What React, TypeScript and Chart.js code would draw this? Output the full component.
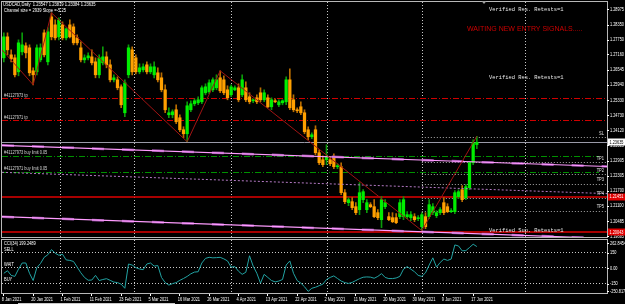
import React, { useEffect, useRef } from 'react';
import { Chart, registerables } from 'chart.js';

Chart.register(...registerables);

// ---------------- data ----------------
const opens = [
  1.2702, 1.2786, 1.2714, 1.2702, 1.2646, 1.2726, 1.2750, 1.2742, 1.2650, 1.2646,
  1.2694, 1.2802, 1.2686, 1.2866, 1.2834, 1.2786, 1.2834, 1.2782, 1.2834, 1.2826,
  1.2782, 1.2742, 1.2694, 1.2702, 1.2706, 1.2686, 1.2634, 1.2682, 1.2706, 1.2674,
  1.2614, 1.2614, 1.2586, 1.2482, 1.2634, 1.2734, 1.2702, 1.2646, 1.2654, 1.2674,
  1.2646, 1.2634, 1.2642, 1.2622, 1.2574, 1.2474, 1.2474, 1.2494, 1.2462, 1.2414,
  1.2398, 1.2494, 1.2518, 1.2522, 1.2526, 1.2562, 1.2566, 1.2574, 1.2582, 1.2622,
  1.2614, 1.2574, 1.2554, 1.2574, 1.2582, 1.2554, 1.2582, 1.2546, 1.2530, 1.2542,
  1.2562, 1.2534, 1.2542, 1.2506, 1.2530, 1.2514, 1.2522, 1.2526, 1.2614, 1.2534,
  1.2494, 1.2506, 1.2482, 1.2414, 1.2386, 1.2414, 1.2322, 1.2294, 1.2294, 1.2294,
  1.2306, 1.2266, 1.2266, 1.2162, 1.2122, 1.2126, 1.2106, 1.2094, 1.2134, 1.2094,
  1.2114, 1.2106, 1.2082, 1.2054, 1.2106, 1.2066, 1.2062, 1.2062, 1.2066, 1.2066,
  1.2066, 1.2062, 1.2066, 1.2058, 1.2026, 1.2066, 1.2066, 1.2082, 1.2070, 1.2082,
  1.2122, 1.2106, 1.2086, 1.2086, 1.2146, 1.2174, 1.2142, 1.2182, 1.2282, 1.23547,
];
const highs = [
  1.2802, 1.2802, 1.2734, 1.2714, 1.2774, 1.2802, 1.2762, 1.2754, 1.2662, 1.2754,
  1.2758, 1.2814, 1.2822, 1.2882, 1.2854, 1.2862, 1.2846, 1.2822, 1.2854, 1.2838,
  1.2794, 1.2766, 1.2714, 1.2722, 1.2734, 1.2702, 1.2714, 1.2746, 1.2726, 1.2694,
  1.2634, 1.2626, 1.2594, 1.2614, 1.2754, 1.2746, 1.2714, 1.2678, 1.2678, 1.2686,
  1.2678, 1.2686, 1.2662, 1.2642, 1.2594, 1.2502, 1.2494, 1.2514, 1.2474, 1.2426,
  1.2526, 1.2530, 1.2538, 1.2546, 1.2590, 1.2598, 1.2614, 1.2622, 1.2634, 1.2650,
  1.2630, 1.2590, 1.2594, 1.2590, 1.2598, 1.2634, 1.2606, 1.2562, 1.2538, 1.2554,
  1.2582, 1.2574, 1.2554, 1.2542, 1.2538, 1.2534, 1.2534, 1.2626, 1.2658, 1.2554,
  1.2502, 1.2526, 1.2494, 1.2426, 1.2402, 1.2430, 1.2334, 1.2310, 1.2354, 1.2306,
  1.2318, 1.2278, 1.2282, 1.2174, 1.2142, 1.2142, 1.2122, 1.2202, 1.2174, 1.2134,
  1.2122, 1.2134, 1.2094, 1.2146, 1.2134, 1.2082, 1.2082, 1.2078, 1.2134, 1.2146,
  1.2086, 1.2086, 1.2078, 1.2070, 1.2082, 1.2082, 1.2134, 1.2118, 1.2090, 1.2102,
  1.2142, 1.2118, 1.2098, 1.2170, 1.2174, 1.2190, 1.2194, 1.2286, 1.2374, 1.23879,
];
const lows = [
  1.2686, 1.2714, 1.2686, 1.2626, 1.2630, 1.2714, 1.2702, 1.2630, 1.2594, 1.2634,
  1.2686, 1.2706, 1.2674, 1.2774, 1.2774, 1.2774, 1.2774, 1.2774, 1.2782, 1.2754,
  1.2754, 1.2686, 1.2682, 1.2694, 1.2674, 1.2622, 1.2622, 1.2674, 1.2662, 1.2606,
  1.2606, 1.2574, 1.2502, 1.2466, 1.2622, 1.2634, 1.2638, 1.2638, 1.2646, 1.2638,
  1.2638, 1.2622, 1.2606, 1.2566, 1.2482, 1.2462, 1.2462, 1.2438, 1.2406, 1.2382,
  1.2366, 1.2486, 1.2510, 1.2514, 1.2518, 1.2554, 1.2558, 1.2566, 1.2574, 1.2562,
  1.2554, 1.2534, 1.2546, 1.2570, 1.2526, 1.2546, 1.2526, 1.2518, 1.2522, 1.2518,
  1.2526, 1.2526, 1.2502, 1.2494, 1.2522, 1.2506, 1.2514, 1.2514, 1.2494, 1.2486,
  1.2482, 1.2474, 1.2398, 1.2374, 1.2378, 1.2314, 1.2274, 1.2266, 1.2274, 1.2270,
  1.2258, 1.2258, 1.2154, 1.2118, 1.2110, 1.2094, 1.2074, 1.2074, 1.2122, 1.2082,
  1.2102, 1.2062, 1.2054, 1.2022, 1.2098, 1.2050, 1.2042, 1.2038, 1.2058, 1.2054,
  1.2058, 1.2050, 1.2046, 1.2050, 1.2010, 1.2018, 1.2058, 1.2074, 1.2062, 1.2074,
  1.2074, 1.2082, 1.2082, 1.2078, 1.2138, 1.2126, 1.2134, 1.2174, 1.2274, 1.23384,
];
const closes = [
  1.2786, 1.2734, 1.2698, 1.2634, 1.2762, 1.2754, 1.2722, 1.2642, 1.2634, 1.2742,
  1.2742, 1.2714, 1.2806, 1.2786, 1.2782, 1.2854, 1.2782, 1.2818, 1.2786, 1.2762,
  1.2762, 1.2694, 1.2702, 1.2710, 1.2682, 1.2634, 1.2702, 1.2706, 1.2674, 1.2614,
  1.2622, 1.2582, 1.2514, 1.2602, 1.2742, 1.2646, 1.2646, 1.2662, 1.2666, 1.2646,
  1.2666, 1.2666, 1.2614, 1.2574, 1.2494, 1.2482, 1.2486, 1.2446, 1.2414, 1.2398,
  1.2510, 1.2518, 1.2530, 1.2534, 1.2582, 1.2586, 1.2602, 1.2614, 1.2614, 1.2570,
  1.2562, 1.2542, 1.2586, 1.2582, 1.2534, 1.2614, 1.2534, 1.2526, 1.2534, 1.2526,
  1.2534, 1.2562, 1.2506, 1.2534, 1.2526, 1.2526, 1.2530, 1.2614, 1.2502, 1.2494,
  1.2490, 1.2482, 1.2406, 1.2386, 1.2394, 1.2322, 1.2282, 1.2274, 1.2306, 1.2278,
  1.2266, 1.2270, 1.2162, 1.2126, 1.2134, 1.2102, 1.2082, 1.2162, 1.2166, 1.2122,
  1.2106, 1.2066, 1.2062, 1.2134, 1.2122, 1.2054, 1.2046, 1.2042, 1.2122, 1.2134,
  1.2074, 1.2074, 1.2054, 1.2062, 1.2074, 1.2026, 1.2114, 1.2106, 1.2082, 1.2094,
  1.2082, 1.2086, 1.2090, 1.2162, 1.2166, 1.2134, 1.2186, 1.2282, 1.2362, 1.23635,
];
const cciValues = [
  -60, -35, -80, -90, -20, 40, 40, -60, -130, -5,
  35, 95, 120, 170, 135, 115, 125, 70, 65, 55,
  0, -55, -100, -127, -125, -80, -130, -120, -112, -128,
  -145, -150, -165, -205, 30, 20, -5, -18, -25, 30,
  40, 10, 15, -100, -150, -174, -160, -150, -128, -110,
  -90, -65, -48, -45, 40, 85, 95, 90, 92, 95,
  80, 60, 0, 5, -40, -70, -50, 110, 10, -60,
  -155, -70, -100, -130, -143, -135, -120, 20, 60, -60,
  -130, -155, -190, -235, -205, -195, -180, -165, -120, -100,
  -85, -110, -135, -150, -158, -148, -130, -112, -98, -95,
  -97, -108, -90, -63, -100, -111, -111, -105, -90, -20,
  5, -20, -45, -80, -90, -55, 20, 90, 0, 45,
  78, 65, 78, 215, 205, 158, 160, 190, 222, 199.25,
];

const dateTickBars = [0, 8, 16, 24, 32, 40, 48, 56, 64, 72, 80, 88, 96, 104, 112, 120, 128];
const dateTickLabels = [
  '8 Jan 2021', '20 Jan 2021', '1 Feb 2021', '11 Feb 2021', '23 Feb 2021', '5 Mar 2021',
  '16 Mar 2021', '26 Mar 2021', '4 Apr 2021', '13 Apr 2021', '22 Apr 2021', '2 May 2021',
  '11 May 2021', '20 May 2021', '30 May 2021', '9 Jun 2021', '17 Jun 2021',
];
const monthGridBars = [15.3, 35.5, 62, 88.1, 114, 142.1];

const priceTicks = [
  1.28975, 1.2835, 1.2775, 1.2716, 1.26545, 1.2594, 1.2533, 1.2473,
  1.2412, 1.23515, 1.22905, 1.22305, 1.217, 1.211, 1.20485, 1.19885,
];
const priceMin = 1.19846;
const priceMax = 1.29255;
const slotMin = -0.5;
const slotMax = 164.5;

const tpLevels = [1.25399, 1.24518];
const tpTags = ['#41127973 tp', '#41127971 tp'];
const limitLevels = [1.23089, 1.22448];
const limitTags = ['#41127973 buy limit 0.05', '#41127971 buy limit 0.05'];
const slLevel = 1.23862;
const targetLevels = [1.22829, 1.22368, 1.21988, 1.21427, 1.20907];
const targetTags = ['TP1', 'TP2', 'TP3', 'TP4', 'TP5'];
const tradeStartBar = 114;
const redLevels = [1.21451, 1.20043];
const upperChannel = [1.23517, 1.22668];
const middleChannel = [1.22436, 1.21583];
const lowerChannel = [1.20658, 1.19789];
const zigzagStart = 1.2734;
const zigzagBars = [8, 13, 50, 59, 114, 129];
const zigzagIsHigh = [false, true, false, true, false, true];

const titleText = 'USDCAD,Daily  1.23547 1.23879 1.23384 1.23635';
const channelText = 'Channel size = 2939 Slope =-5.25';
const signalText = 'WAITING NEW ENTRY SIGNALS.....';
const resText = 'Verified Res. Retests=1';
const supText = 'Verified Sup. Retests=1';
const resLevels = [1.28975, 1.26245];
const supLevel = 1.2010;

const cciMax = 262.8454;
const cciMin = -250.817;
const cciLevels = [150, 0, -150];
const cciLevelTags = ['SELL', 'WAIT', 'BUY'];
const cciTicks = [262.8454, 150, 0, -150, -250.817];
const cciTickLabels = ['262.8454', '150', '0.00', '-150', '-250.817'];
const cciTitle = 'CCI(34) 199.2489';

// ---------------- helpers ----------------
const SANS = '"Liberation Sans", Arial, sans-serif';
const MONO = '"Liberation Mono", "Courier New", monospace';

function drawText(ctx: CanvasRenderingContext2D, s: string, x: number, y: number, size: number, color: string, sx = 1, align: CanvasTextAlign = 'left', family = SANS) {
  ctx.save();
  ctx.font = `${size}px ${family}`;
  ctx.fillStyle = color;
  ctx.textAlign = align;
  ctx.textBaseline = 'middle';
  ctx.translate(x, y);
  ctx.scale(sx, 1);
  ctx.fillText(s, 0, 0);
  ctx.restore();
}

function hline(ctx: CanvasRenderingContext2D, x1: number, x2: number, y: number, color: string, dash: number[], width = 1) {
  ctx.save();
  ctx.strokeStyle = color;
  ctx.lineWidth = width;
  ctx.setLineDash(dash);
  const yy = Math.round(y) + (Math.round(width) % 2 ? 0.5 : 0);
  ctx.beginPath();
  ctx.moveTo(x1, yy);
  ctx.lineTo(x2, yy);
  ctx.stroke();
  ctx.restore();
}

function vline(ctx: CanvasRenderingContext2D, x: number, y1: number, y2: number, color: string, dash: number[]) {
  ctx.save();
  ctx.strokeStyle = color;
  ctx.lineWidth = 1;
  ctx.setLineDash(dash);
  const xx = Math.round(x) + 0.5;
  ctx.beginPath();
  ctx.moveTo(xx, y1);
  ctx.lineTo(xx, y2);
  ctx.stroke();
  ctx.restore();
}

const BULL = '#00ee00';
const BEAR = '#ffa000';
const BULL_WICK = '#0a9a0a';
const BEAR_WICK = '#b86c00';
const GRID = '#c8c8c8';

// ---------------- plugins ----------------
const mainPlugin = {
  id: 'mainDecor',
  beforeDatasetsDraw(chart: any) {
    const { ctx, chartArea: a, scales } = chart;
    const x = scales.x, y = scales.y;
    ctx.save();
    ctx.beginPath();
    ctx.rect(a.left, a.top, a.right - a.left, a.bottom - a.top);
    ctx.clip();
    monthGridBars.forEach((b) => vline(ctx, x.getPixelForValue(b), a.top, a.bottom, GRID, [1, 2]));
    tpLevels.forEach((v) => hline(ctx, a.left, a.right, y.getPixelForValue(v), '#d00000', [6, 2, 1, 2]));
    limitLevels.forEach((v) => hline(ctx, a.left, a.right - 8, y.getPixelForValue(v), '#009000', [6, 2, 1, 2]));
    const xs = x.getPixelForValue(tradeStartBar);
    hline(ctx, xs, a.right, y.getPixelForValue(slLevel), '#a8a8a8', [1, 2]);
    targetLevels.forEach((v) => hline(ctx, xs, a.right, y.getPixelForValue(v), '#a8a8a8', [1, 2]));
    hline(ctx, a.left, a.right, y.getPixelForValue(closes[closes.length - 1]), '#9a9aa8', []);
    redLevels.forEach((v) => hline(ctx, a.left, a.right, y.getPixelForValue(v), '#e00000', [], 1.5));
    ctx.restore();
  },
  afterDraw(chart: any) {
    const { ctx, chartArea: a, scales } = chart;
    const x = scales.x, y = scales.y;
    // texts
    drawText(ctx, titleText, 3, 5, 5, '#ffffff', 0.82);
    drawText(ctx, channelText, 4, 11, 5, '#ffffff', 0.82);
    drawText(ctx, signalText, 467, 29, 7, '#cc0000', 1);
    resLevels.forEach((v) => drawText(ctx, resText, 489, y.getPixelForValue(v), 6, '#e8e8e8', 0.9, 'left', MONO));
    drawText(ctx, supText, 489, y.getPixelForValue(supLevel), 6, '#e8e8e8', 0.9, 'left', MONO);
    tpTags.forEach((t, i) => drawText(ctx, t, 4, y.getPixelForValue(tpLevels[i]) - 3, 5, '#d8d8d8', 0.78));
    limitTags.forEach((t, i) => drawText(ctx, t, 4, y.getPixelForValue(limitLevels[i]) - 3, 5, '#d8d8d8', 0.78));
    drawText(ctx, 'SL', 604, y.getPixelForValue(slLevel) - 3, 5, '#e0e0e0', 0.8, 'right');
    targetTags.forEach((t, i) => drawText(ctx, t, 604, y.getPixelForValue(targetLevels[i]) - 3.5, 5, '#e0e0e0', 0.8, 'right'));
    // border
    ctx.save();
    ctx.strokeStyle = '#b8b8b8';
    ctx.lineWidth = 1;
    ctx.strokeRect(a.left - 0.5, a.top - 0.5, a.right - a.left + 1, a.bottom - a.top + 1);
    ctx.restore();
    // chart shift marker
    ctx.save();
    ctx.fillStyle = '#a0a0a0';
    ctx.beginPath();
    ctx.moveTo(481.5, 1);
    ctx.lineTo(486.5, 1);
    ctx.lineTo(484, 4);
    ctx.closePath();
    ctx.fill();
    ctx.restore();
    // right axis
    priceTicks.forEach((v) => {
      const py = y.getPixelForValue(v);
      hline(ctx, a.right, a.right + 2, py, '#ffffff', []);
      drawText(ctx, v.toFixed(5), a.right + 3, py, 5.5, '#ffffff', 0.7);
    });
    const boxes = [
      { v: closes[closes.length - 1], bg: '#ffffff', fg: '#000000' },
      { v: redLevels[0], bg: '#e00000', fg: '#ffffff' },
      { v: redLevels[1], bg: '#e00000', fg: '#ffffff' },
    ];
    boxes.forEach((b) => {
      const py = y.getPixelForValue(b.v);
      ctx.save();
      ctx.fillStyle = b.bg;
      ctx.fillRect(a.right + 1, Math.round(py) - 3.5, 17, 7);
      ctx.restore();
      drawText(ctx, b.v.toFixed(5), a.right + 2.5, py, 5.5, b.fg, 0.7);
    });
  },
};

const cciPlugin = {
  id: 'cciDecor',
  beforeDatasetsDraw(chart: any) {
    const { ctx, chartArea: a, scales } = chart;
    const x = scales.x, y = scales.y;
    ctx.save();
    ctx.beginPath();
    ctx.rect(a.left, a.top, a.right - a.left, a.bottom - a.top);
    ctx.clip();
    monthGridBars.forEach((b) => vline(ctx, x.getPixelForValue(b), a.top, a.bottom, GRID, [1, 2]));
    cciLevels.forEach((v) => hline(ctx, a.left, a.right, y.getPixelForValue(v), GRID, [1, 2]));
    ctx.restore();
  },
  afterDraw(chart: any) {
    const { ctx, chartArea: a, scales } = chart;
    const x = scales.x, y = scales.y;
    drawText(ctx, cciTitle, 4, a.top + 4, 5, '#ffffff', 0.8);
    cciLevels.forEach((v, i) => drawText(ctx, cciLevelTags[i], 4, y.getPixelForValue(v) - 2.5, 5, '#ffffff', 0.8));
    ctx.save();
    ctx.strokeStyle = '#b8b8b8';
    ctx.lineWidth = 1;
    ctx.strokeRect(a.left - 0.5, a.top - 0.5, a.right - a.left + 1, a.bottom - a.top + 1);
    ctx.restore();
    cciTicks.forEach((v, i) => {
      const py = y.getPixelForValue(v);
      const ty = i === 0 ? py + 3 : i === cciTicks.length - 1 ? py - 2 : py + 1;
      hline(ctx, a.right, a.right + 2, ty, '#ffffff', []);
      drawText(ctx, cciTickLabels[i], a.right + 3, ty, 5.5, '#ffffff', 0.7);
    });
    dateTickBars.forEach((b, i) => {
      const px = x.getPixelForValue(b);
      vline(ctx, px - 0.5, a.bottom + 1, a.bottom + 3, '#ffffff', []);
      drawText(ctx, dateTickLabels[i], px - 2, a.bottom + 6, 5.5, '#ffffff', 0.72);
    });
    hline(ctx, 18, 175, a.bottom + 10, '#c8c8c8', [], 1);
  },
};

// ---------------- component ----------------
export default function App() {
  const mainRef = useRef<HTMLCanvasElement>(null);
  const cciRef = useRef<HTMLCanvasElement>(null);

  useEffect(() => {
    const isBull = closes.map((c, i) => c >= opens[i]);
    const bodies = opens.map((o, i) => ({ x: i, y: [o, closes[i]] }));
    const wicks = lows.map((l, i) => ({ x: i, y: [l, highs[i]] }));
    const line = (v: number[]) => [{ x: slotMin, y: v[0] }, { x: slotMax, y: v[1] }];
    const zigzag = [{ x: slotMin, y: zigzagStart }].concat(
      zigzagBars.map((b, k) => ({ x: b, y: zigzagIsHigh[k] ? highs[b] : lows[b] }))
    );

    const main = new Chart(mainRef.current as HTMLCanvasElement, {
      type: 'bar',
      data: {
        datasets: [
          { type: 'line', data: zigzag, borderColor: '#a01414', borderWidth: 1, pointRadius: 0, order: 0 } as any,
          { type: 'line', data: line(upperChannel), borderColor: '#ff9cff', borderWidth: 1.2, pointRadius: 0, order: 1 } as any,
          { type: 'line', data: line(upperChannel), borderColor: '#9a4fa8', borderWidth: 2.5, borderDash: [12, 18], pointRadius: 0, order: 1 } as any,
          { type: 'line', data: line(lowerChannel), borderColor: '#ff9cff', borderWidth: 1.2, pointRadius: 0, order: 1 } as any,
          { type: 'line', data: line(lowerChannel), borderColor: '#9a4fa8', borderWidth: 2.5, borderDash: [12, 18], pointRadius: 0, order: 1 } as any,
          { type: 'line', data: line(middleChannel), borderColor: '#b57ac5', borderWidth: 1, borderDash: [2, 2], pointRadius: 0, order: 1 } as any,
          { type: 'bar', data: bodies, backgroundColor: isBull.map((b) => (b ? BULL : BEAR)), barThickness: 2.6, grouped: false, borderWidth: 0, order: 5 } as any,
          { type: 'bar', data: wicks, backgroundColor: isBull.map((b) => (b ? BULL_WICK : BEAR_WICK)), barThickness: 1, grouped: false, borderWidth: 0, order: 6 } as any,
        ],
      },
      options: {
        responsive: false,
        animation: false,
        devicePixelRatio: 1,
        events: [],
        layout: { padding: { left: 2, right: 18, top: 2, bottom: 2 } },
        plugins: { legend: { display: false }, tooltip: { enabled: false } },
        scales: {
          x: { type: 'linear', min: slotMin, max: slotMax, display: false, offset: false },
          y: { type: 'linear', min: priceMin, max: priceMax, display: false },
        },
      } as any,
      plugins: [mainPlugin],
    });

    const cci = new Chart(cciRef.current as HTMLCanvasElement, {
      type: 'line',
      data: {
        datasets: [
          { data: cciValues.map((v, i) => ({ x: i, y: v })), borderColor: '#22a3a3', borderWidth: 1, pointRadius: 0, tension: 0 },
        ],
      },
      options: {
        responsive: false,
        animation: false,
        devicePixelRatio: 1,
        events: [],
        layout: { padding: { left: 2, right: 18, top: 1, bottom: 11 } },
        plugins: { legend: { display: false }, tooltip: { enabled: false } },
        scales: {
          x: { type: 'linear', min: slotMin, max: slotMax, display: false },
          y: { type: 'linear', min: cciMin, max: cciMax, display: false },
        },
      } as any,
      plugins: [cciPlugin],
    });

    return () => {
      main.destroy();
      cci.destroy();
    };
  }, []);

  return (
    <div style={{ position: 'fixed', left: 0, top: 0, width: 625, height: 304, background: '#000', overflow: 'hidden' }}>
      <canvas ref={mainRef} width={625} height={239} style={{ position: 'absolute', left: 0, top: 0, width: 625, height: 239 }} />
      <canvas ref={cciRef} width={625} height={65} style={{ position: 'absolute', left: 0, top: 239, width: 625, height: 65 }} />
    </div>
  );
}
